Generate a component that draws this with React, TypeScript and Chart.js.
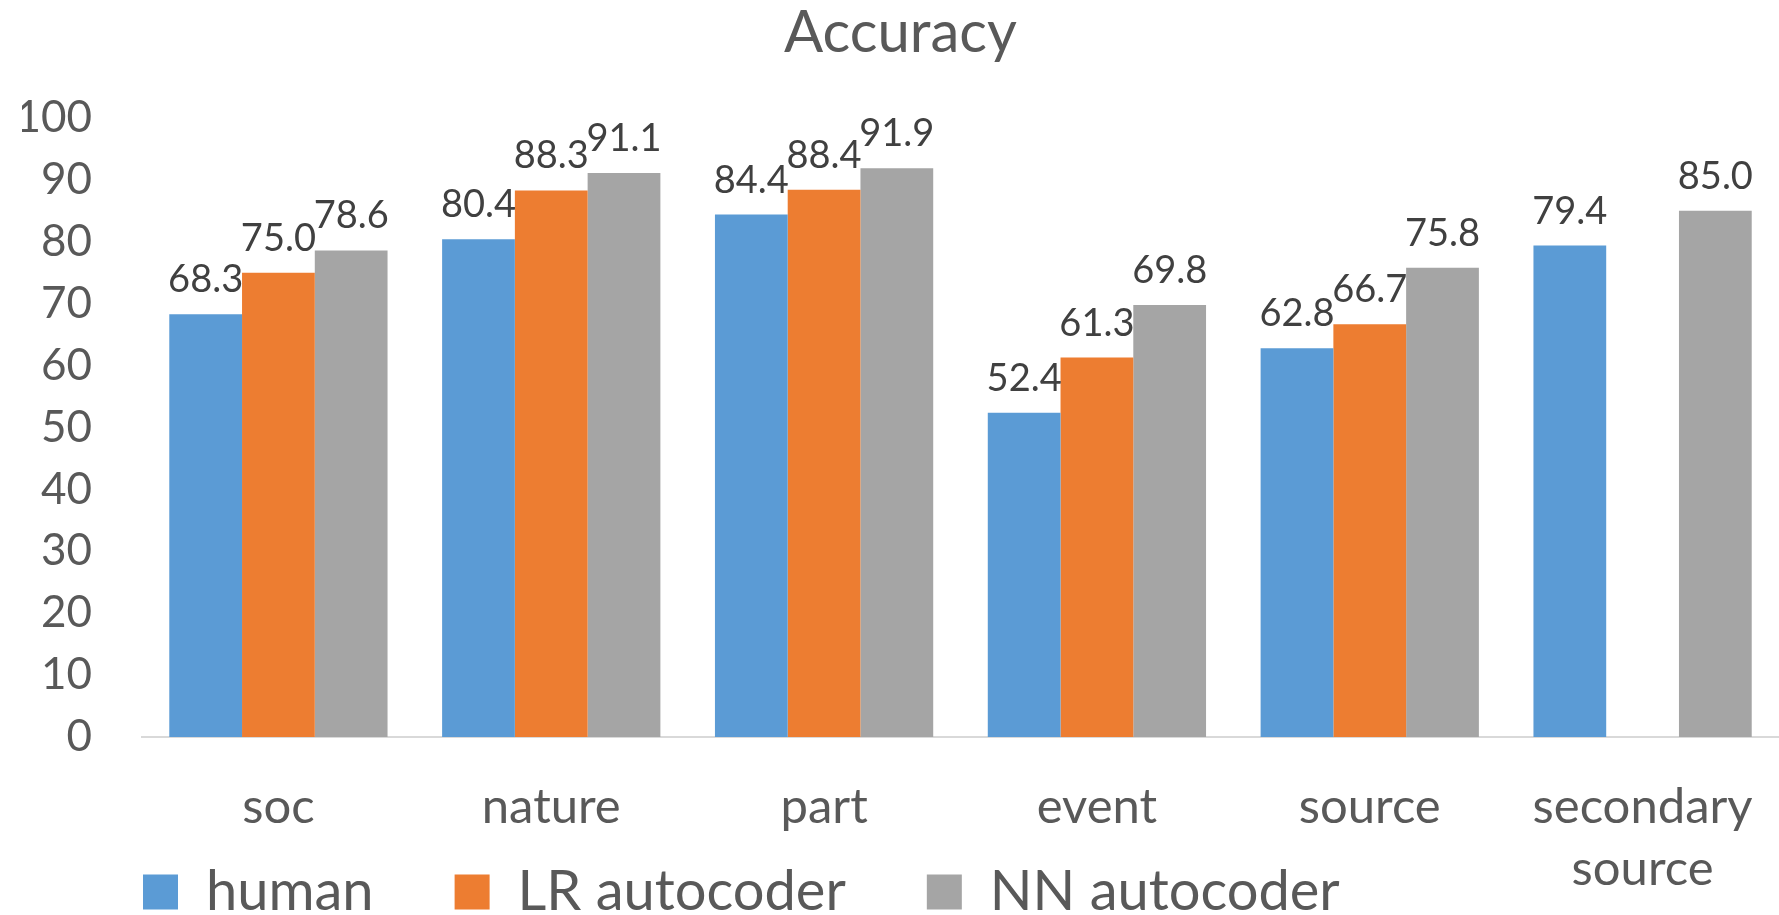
import React, { useEffect, useRef } from 'react';
import { Chart, registerables } from 'chart.js';

Chart.register(...registerables);

// ---- data ----
const chartTitle = 'Accuracy';
const categories: (string | string[])[] = ['soc', 'nature', 'part', 'event', 'source', ['secondary', 'source']];
const seriesNames = ['human', 'LR autocoder', 'NN autocoder'];
const humanValues: (number | null)[] = [68.3, 80.4, 84.4, 52.4, 62.8, 79.4];
const lrValues: (number | null)[] = [75.0, 88.3, 88.4, 61.3, 66.7, null];
const nnValues: (number | null)[] = [78.6, 91.1, 91.9, 69.8, 75.8, 85.0];
const yMin = 0;
const yMax = 100;
const yStep = 10;

// ---- style ----
const seriesColors = ['#5B9BD5', '#ED7D31', '#A5A5A5'];
const FONT = 'Lato';
const textColor = '#595959';
const labelColor = '#404040';

const valueLabels = {
  id: 'valueLabels',
  afterDatasetsDraw(chart: any, _args: any, opts: any) {
    const { ctx } = chart;
    ctx.save();
    ctx.font = `${opts.size}px ${opts.family}`;
    ctx.fillStyle = opts.color;
    ctx.textAlign = 'center';
    ctx.textBaseline = 'alphabetic';
    chart.data.datasets.forEach((ds: any, i: number) => {
      const meta = chart.getDatasetMeta(i);
      meta.data.forEach((bar: any, j: number) => {
        const v = ds.data[j];
        if (v === null || v === undefined) return;
        ctx.fillText(Number(v).toFixed(1), bar.x, bar.y - opts.offset);
      });
    });
    ctx.restore();
  },
};

// The legend is laid out with a tiny height so it can sit beside the two-line
// category label; this moves its box to the bottom-left and gives it room to draw.
const legendShift = {
  id: 'legendShift',
  afterLayout(chart: any, _args: any, opts: any) {
    const lg = chart.legend;
    if (!lg) return;
    lg.left += opts.dx;
    lg.right += opts.dx;
    lg.top += opts.dy;
    lg.bottom = chart.height;
    lg.height = lg.bottom - lg.top;
  },
};

export default function App() {
  const canvasRef = useRef<HTMLCanvasElement | null>(null);

  useEffect(() => {
    const canvas = canvasRef.current;
    if (!canvas) return;
    const datasetsValues = [humanValues, lrValues, nnValues];
    const chart = new Chart(canvas, {
      type: 'bar',
      data: {
        labels: categories,
        datasets: seriesNames.map((name, i) => ({
          label: name,
          data: datasetsValues[i],
          backgroundColor: seriesColors[i],
          borderWidth: 0,
          categoryPercentage: 0.8,
          barPercentage: 1.0,
        })),
      },
      options: {
        responsive: false,
        animation: false,
        devicePixelRatio: 1,
        layout: { padding: { left: 22, right: 0, top: 0, bottom: 0 } },
        scales: {
          x: {
            grid: { display: false, drawTicks: true, tickLength: 39 },
            border: { display: true, color: '#D9D9D9', width: 2 },
            ticks: {
              color: textColor,
              font: { family: FONT, size: 49, lineHeight: 1.265 },
              padding: 0,
              maxRotation: 0,
              minRotation: 0,
              autoSkip: false,
            },
            afterFit: (scale: any) => {
              scale.height = 168;
            },
          },
          y: {
            min: yMin,
            max: yMax,
            grid: { display: false, drawTicks: false },
            border: { display: false },
            ticks: {
              stepSize: yStep,
              color: textColor,
              font: { family: FONT, size: 44 },
              padding: 50,
            },
            afterFit: (scale: any) => {
              scale.width = 120;
            },
          },
        },
        plugins: {
          title: {
            display: true,
            text: chartTitle,
            color: textColor,
            font: { family: FONT, size: 58, weight: 'normal', lineHeight: 1 },
            padding: { top: 4, bottom: 56 },
          },
          legend: {
            display: true,
            position: 'bottom',
            align: 'start',
            maxHeight: 10,
            labels: {
              color: textColor,
              font: { family: FONT, size: 56 },
              boxWidth: 35,
              boxHeight: 35,
              padding: 81,
            },
          },
          tooltip: { enabled: false },
          valueLabels: { size: 38, family: FONT, color: labelColor, offset: 22 },
          legendShift: { dx: 40, dy: -122 },
        } as any,
      },
      plugins: [valueLabels, legendShift],
    });
    return () => chart.destroy();
  }, []);

  return (
    <div style={{ position: 'absolute', left: 0, top: 0, width: 1779, height: 915, background: '#fff', overflow: 'hidden' }}>
      <canvas ref={canvasRef} width={1779} height={915} style={{ display: 'block' }} />
    </div>
  );
}
